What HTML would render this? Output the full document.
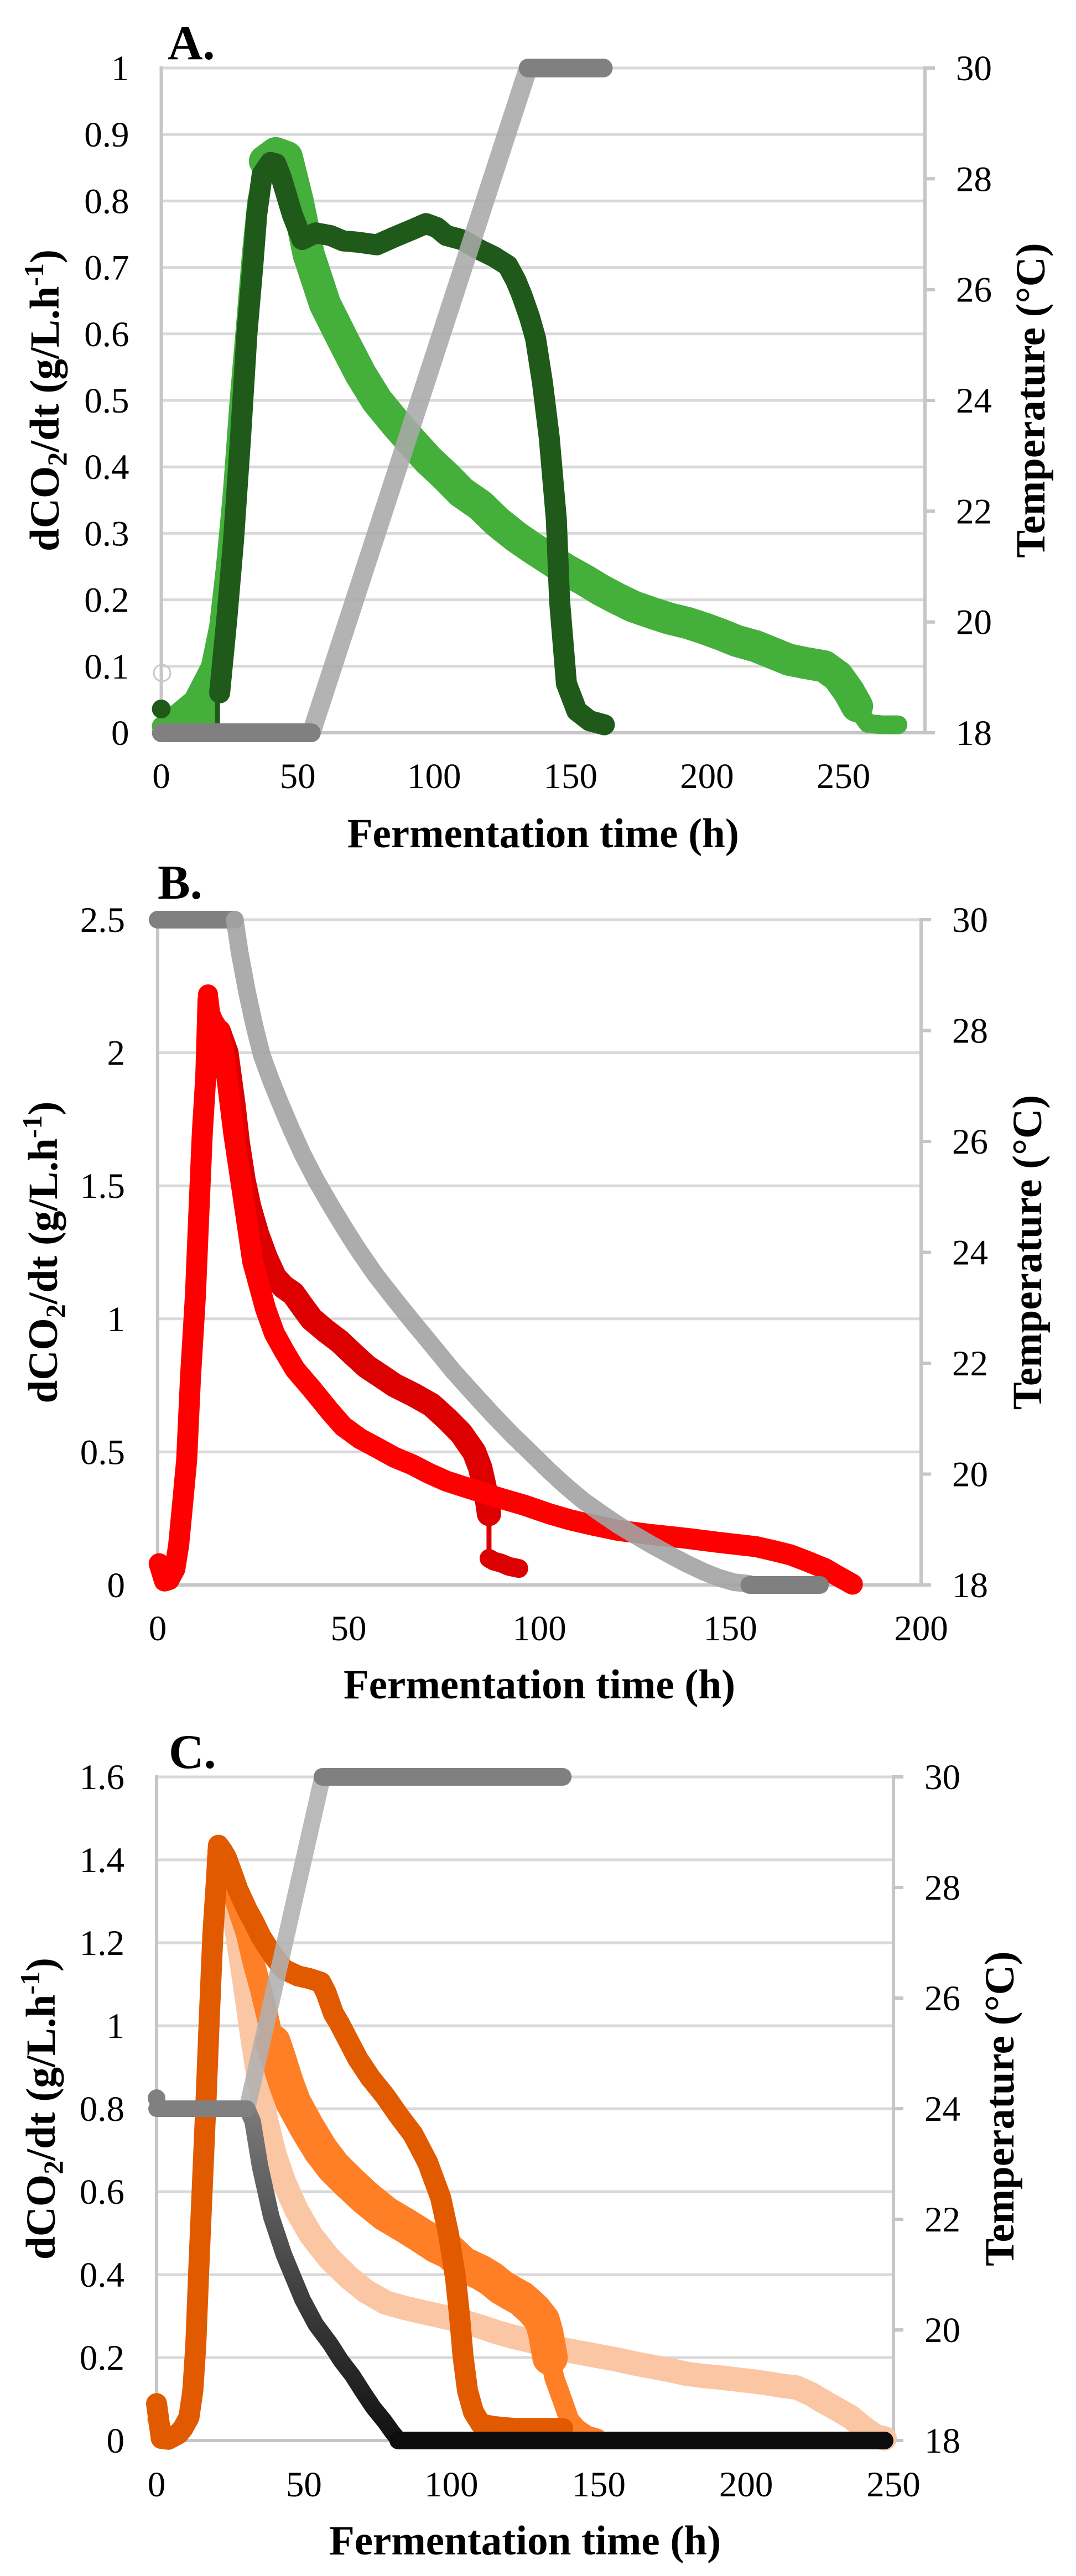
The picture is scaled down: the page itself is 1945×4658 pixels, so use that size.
<!DOCTYPE html>
<html><head><meta charset="utf-8">
<style>
html,body{margin:0;padding:0;background:#fff;}
svg{display:block;}
text{font-family:"Liberation Serif","Times New Roman",serif;fill:#000;}
.t{font-size:65px;font-family:"Liberation Serif","Times New Roman",serif;}
.ti{font-size:75px;font-weight:bold;font-family:"Liberation Serif","Times New Roman",serif;}
.pl{font-size:88px;font-weight:bold;font-family:"Liberation Serif","Times New Roman",serif;}
.g{stroke:#d9d9d9;stroke-width:5;}
.ax{stroke:#c6c6c6;stroke-width:6;}
.s{fill:none;stroke-linejoin:round;stroke-linecap:round;}
</style></head><body>
<svg width="1945" height="4658" viewBox="0 0 1945 4658" xmlns="http://www.w3.org/2000/svg" font-family="Liberation Serif, Times New Roman, serif">
<defs>
<linearGradient id="gC" gradientUnits="userSpaceOnUse" x1="0" y1="6" x2="0" y2="0">
<stop offset="0" stop-color="#7a7a7a"/><stop offset="1" stop-color="#111111"/>
</linearGradient>
</defs>
<rect width="1945" height="4658" fill="#fff"/>

<!-- ================= PANEL A ================= -->
<g>
<line class="g" x1="291.5" x2="1672" y1="1204.8" y2="1204.8"/>
<line class="g" x1="291.5" x2="1672" y1="1084.6" y2="1084.6"/>
<line class="g" x1="291.5" x2="1672" y1="964.4" y2="964.4"/>
<line class="g" x1="291.5" x2="1672" y1="844.2" y2="844.2"/>
<line class="g" x1="291.5" x2="1672" y1="724" y2="724"/>
<line class="g" x1="291.5" x2="1672" y1="603.8" y2="603.8"/>
<line class="g" x1="291.5" x2="1672" y1="483.6" y2="483.6"/>
<line class="g" x1="291.5" x2="1672" y1="363.4" y2="363.4"/>
<line class="g" x1="291.5" x2="1672" y1="243.2" y2="243.2"/>
<line class="g" x1="291.5" x2="1672" y1="123" y2="123"/>
<line class="ax" x1="291.5" x2="1672" y1="1325" y2="1325"/>
<line class="ax" x1="291.5" x2="291.5" y1="120" y2="1328"/>
<line class="ax" x1="1672" x2="1672" y1="120" y2="1328"/>
<line class="ax" x1="1672" x2="1690" y1="1325" y2="1325"/>
<line class="ax" x1="1672" x2="1690" y1="1124.7" y2="1124.7"/>
<line class="ax" x1="1672" x2="1690" y1="924.3" y2="924.3"/>
<line class="ax" x1="1672" x2="1690" y1="724" y2="724"/>
<line class="ax" x1="1672" x2="1690" y1="523.7" y2="523.7"/>
<line class="ax" x1="1672" x2="1690" y1="323.3" y2="323.3"/>
<line class="ax" x1="1672" x2="1690" y1="123" y2="123"/>
</g>
<g class="t" text-anchor="end" font-family="Liberation Serif, serif" font-size="65">
<text x="233.5" y="1347">0</text>
<text x="233.5" y="1226.8">0.1</text>
<text x="233.5" y="1106.6">0.2</text>
<text x="233.5" y="986.4">0.3</text>
<text x="233.5" y="866.2">0.4</text>
<text x="233.5" y="746">0.5</text>
<text x="233.5" y="625.8">0.6</text>
<text x="233.5" y="505.6">0.7</text>
<text x="233.5" y="385.4">0.8</text>
<text x="233.5" y="265.2">0.9</text>
<text x="233.5" y="145">1</text>
</g>
<g class="t" font-family="Liberation Serif, serif" font-size="65">
<text x="1728" y="1347">18</text>
<text x="1728" y="1146.7">20</text>
<text x="1728" y="946.3">22</text>
<text x="1728" y="746">24</text>
<text x="1728" y="545.7">26</text>
<text x="1728" y="345.3">28</text>
<text x="1728" y="145">30</text>
</g>
<g class="t" text-anchor="middle" font-family="Liberation Serif, serif" font-size="65">
<text x="291.5" y="1425">0</text>
<text x="538.1" y="1425">50</text>
<text x="784.7" y="1425">100</text>
<text x="1031.3" y="1425">150</text>
<text x="1277.9" y="1425">200</text>
<text x="1524.5" y="1425">250</text>
</g>
<text class="ti" font-family="Liberation Serif, serif" x="981.75" y="1532" text-anchor="middle">Fermentation time (h)</text>
<text class="ti" font-family="Liberation Serif, serif" text-anchor="middle" transform="translate(106 724) rotate(-90)">dCO<tspan font-size="50" dy="14">2</tspan><tspan dy="-14">/dt (g/L.h</tspan><tspan font-size="50" dy="-28">-1</tspan><tspan dy="28">)</tspan></text>
<text class="ti" font-family="Liberation Serif, serif" text-anchor="middle" transform="translate(1888 724) rotate(-90)">Temperature (°C)</text>
<text class="pl" font-family="Liberation Serif, serif" x="303" y="107">A.</text>

<!-- A series -->
<g transform="translate(291.5 1325) scale(4.932 -1202)">
<polygon points="0,0 5,0.027 11.7,0.05 18,0.1 21,0.16 21,0" fill="#44b03b"/>
<polyline class="s" vector-effect="non-scaling-stroke" stroke="#44b03b" stroke-width="34" points="0,0.01 5,0.027 11.7,0.05 18,0.1 21,0.16 23.5,0.25 26,0.36 28.5,0.5 31,0.62 33,0.72 35,0.8 38,0.86"/>
<polyline class="s" vector-effect="non-scaling-stroke" stroke="#44b03b" stroke-width="58" points="38,0.86 42,0.872 46,0.866 50,0.8 54,0.72 60,0.645 66.7,0.59 73,0.54 79,0.5 86,0.465 92,0.437 98,0.41 104.5,0.385 110,0.362 117,0.342 123,0.318 130,0.295 136,0.278 142,0.262 148,0.246 155,0.23 161,0.215 167,0.202 173,0.19 180,0.18 186,0.172 193,0.165 199,0.157 205,0.148 211,0.138 218,0.13 224,0.12 230,0.11 236,0.105 243,0.1 248,0.085 252,0.062 255,0.04"/>
<polyline class="s" vector-effect="non-scaling-stroke" stroke="#44b03b" stroke-width="34" points="255,0.04 257,0.025 259,0.014 264,0.012 270,0.012"/>
<line class="s" vector-effect="non-scaling-stroke" stroke="#1f5a1b" stroke-width="9" x1="20.6" y1="0" x2="20.6" y2="0.06"/>
<polyline class="s" vector-effect="non-scaling-stroke" stroke="#1f5a1b" stroke-width="38" points="21.4,0.06 24,0.17 26.5,0.29 29,0.44 31.4,0.6 33.5,0.7 35,0.78 37,0.84 40,0.858 42,0.856 44,0.835 48,0.78 51.6,0.742 56.6,0.752 62,0.748 66.6,0.74 72,0.738 79,0.734 85,0.745 92,0.757 97,0.766 101,0.76 104.5,0.748 110,0.742 117,0.726 122,0.716 127,0.703 130,0.68 132.2,0.658 135,0.625 137.2,0.593 139.7,0.527 142.2,0.444 144.8,0.321 146,0.198 148.5,0.074 152.3,0.033 157,0.018 162.4,0.012"/>
</g>
<circle cx="291.5" cy="1282" r="17" fill="#1f5a1b"/>
<g transform="translate(291.5 1325) scale(4.932 -100.17)">
<polyline class="s" vector-effect="non-scaling-stroke" stroke="#a8a8a8" stroke-opacity="0.88" stroke-width="34" points="55,0 134.5,12"/>
<polyline class="s" vector-effect="non-scaling-stroke" stroke="#808080" stroke-width="34" points="0,0 55,0"/>
<polyline class="s" vector-effect="non-scaling-stroke" stroke="#808080" stroke-width="34" points="134.5,12 162,12"/>
</g>
<circle cx="293" cy="1217" r="15" fill="none" stroke="#c8c8c8" stroke-width="3"/>

<!-- ================= PANEL B ================= -->
<g>
<line class="g" x1="285" x2="1665" y1="2625.4" y2="2625.4"/>
<line class="g" x1="285" x2="1665" y1="2384.8" y2="2384.8"/>
<line class="g" x1="285" x2="1665" y1="2144.2" y2="2144.2"/>
<line class="g" x1="285" x2="1665" y1="1903.6" y2="1903.6"/>
<line class="g" x1="285" x2="1665" y1="1663" y2="1663"/>
<line class="ax" x1="285" x2="1665" y1="2866" y2="2866"/>
<line class="ax" x1="285" x2="285" y1="1660" y2="2869"/>
<line class="ax" x1="1665" x2="1665" y1="1660" y2="2869"/>
<line class="ax" x1="1665" x2="1683" y1="2866" y2="2866"/>
<line class="ax" x1="1665" x2="1683" y1="2665.5" y2="2665.5"/>
<line class="ax" x1="1665" x2="1683" y1="2465" y2="2465"/>
<line class="ax" x1="1665" x2="1683" y1="2264.5" y2="2264.5"/>
<line class="ax" x1="1665" x2="1683" y1="2064" y2="2064"/>
<line class="ax" x1="1665" x2="1683" y1="1863.5" y2="1863.5"/>
<line class="ax" x1="1665" x2="1683" y1="1663" y2="1663"/>
</g>
<g class="t" text-anchor="end" font-family="Liberation Serif, serif" font-size="65">
<text x="226" y="2888">0</text>
<text x="226" y="2647.4">0.5</text>
<text x="226" y="2406.8">1</text>
<text x="226" y="2166.2">1.5</text>
<text x="226" y="1925.6">2</text>
<text x="226" y="1685">2.5</text>
</g>
<g class="t" font-family="Liberation Serif, serif" font-size="65">
<text x="1721" y="2888">18</text>
<text x="1721" y="2687.5">20</text>
<text x="1721" y="2487">22</text>
<text x="1721" y="2286.5">24</text>
<text x="1721" y="2086">26</text>
<text x="1721" y="1885.5">28</text>
<text x="1721" y="1685">30</text>
</g>
<g class="t" text-anchor="middle" font-family="Liberation Serif, serif" font-size="65">
<text x="285" y="2966">0</text>
<text x="630" y="2966">50</text>
<text x="975" y="2966">100</text>
<text x="1320" y="2966">150</text>
<text x="1665" y="2966">200</text>
</g>
<text class="ti" font-family="Liberation Serif, serif" x="975" y="3071" text-anchor="middle">Fermentation time (h)</text>
<text class="ti" font-family="Liberation Serif, serif" text-anchor="middle" transform="translate(103 2264.5) rotate(-90)">dCO<tspan font-size="50" dy="14">2</tspan><tspan dy="-14">/dt (g/L.h</tspan><tspan font-size="50" dy="-28">-1</tspan><tspan dy="28">)</tspan></text>
<text class="ti" font-family="Liberation Serif, serif" text-anchor="middle" transform="translate(1882 2264.5) rotate(-90)">Temperature (°C)</text>
<text class="pl" font-family="Liberation Serif, serif" x="285" y="1625">B.</text>

<g transform="translate(285 2866) scale(6.9 -481.2)">
<polyline class="s" vector-effect="non-scaling-stroke" stroke="#dc0000" stroke-width="44" points="16,2.08 18,2.0 19.8,1.81 21,1.66 22.5,1.52 24,1.42 26,1.32 28.3,1.23 30.7,1.155 33,1.12 35.5,1.095 38,1.045 40.3,1.0 44,0.955 47.6,0.916 51,0.87 54.8,0.82 58.5,0.785 62.1,0.75 67,0.715 71.7,0.677 75.7,0.625 79.5,0.57 82.9,0.5 84.5,0.44 85.6,0.37 86.5,0.3 86.8,0.267"/>
<line class="s" vector-effect="non-scaling-stroke" stroke="#dc0000" stroke-width="9" x1="86.8" y1="0.267" x2="86.8" y2="0.1"/>
<polyline class="s" vector-effect="non-scaling-stroke" stroke="#dc0000" stroke-width="34" points="86.8,0.1 88,0.09 90,0.082 92,0.07 94.6,0.062"/>
<polyline class="s" vector-effect="non-scaling-stroke" stroke="#ff0000" stroke-width="38" points="0.4,0.08 1.8,0.015 3,0.02 4.5,0.06 5.5,0.15 6.3,0.27 7.6,0.47 8.6,0.78 9.9,1.09 10.8,1.4 11.7,1.7 12.6,1.91 13,2.1 13.2,2.2 13.6,2.15 14.4,2.12 16.2,2.08 17.5,1.98 20,1.69 22.5,1.45 24.9,1.215 28.3,1.036 30.6,0.945 33.1,0.88 36,0.81 40.3,0.738 45,0.655 48.6,0.596 53,0.55 57.7,0.514 62,0.48 66.7,0.452 71,0.42 75.7,0.39 80,0.37 84.7,0.349 90,0.325 96,0.3 102.7,0.267 108,0.245 114,0.225 120.7,0.205 129,0.19 138.7,0.175 147,0.16 156.8,0.144 161,0.13 165.8,0.113 170,0.09 174.8,0.062 178,0.035 182,0.003"/>
</g>
<circle cx="376" cy="1798" r="18" fill="#ff0000"/>
<g transform="translate(285 2866) scale(6.9 -100.25)">
<polyline class="s" vector-effect="non-scaling-stroke" stroke="#808080" stroke-width="32" points="0,12 20.2,12"/>
<polyline class="s" vector-effect="non-scaling-stroke" stroke="#a3a3a3" stroke-opacity="0.9" stroke-width="32" points="20.2,12 21.5,11.4 23.4,10.7 25.3,10.1 27.3,9.55 29.7,9.1 32.1,8.69 35,8.22 37.9,7.78 41.5,7.3 45.2,6.86 48.8,6.45 52.4,6.06 57,5.6 62.1,5.15 67,4.73 71.7,4.34 77.5,3.85 83.8,3.37 88.5,3.02 93,2.7 97.8,2.38 102.7,2.05 107,1.78 111.5,1.52 116,1.3 120.7,1.08 125,0.9 129.5,0.72 134,0.55 138.7,0.38 143,0.24 147,0.13 151,0.05 155,0.02"/>
<polyline class="s" vector-effect="non-scaling-stroke" stroke="#808080" stroke-width="32" points="155,0 173.5,0"/>
</g>
<circle cx="1540" cy="2866" r="17" fill="#ff0000" fill-opacity="0.7"/>

<!-- ================= PANEL C ================= -->
<g>
<line class="g" x1="283" x2="1615" y1="4263" y2="4263"/>
<line class="g" x1="283" x2="1615" y1="4113" y2="4113"/>
<line class="g" x1="283" x2="1615" y1="3963" y2="3963"/>
<line class="g" x1="283" x2="1615" y1="3813" y2="3813"/>
<line class="g" x1="283" x2="1615" y1="3663" y2="3663"/>
<line class="g" x1="283" x2="1615" y1="3513" y2="3513"/>
<line class="g" x1="283" x2="1615" y1="3363" y2="3363"/>
<line class="g" x1="283" x2="1615" y1="3213" y2="3213"/>
<line class="ax" x1="283" x2="1615" y1="4413" y2="4413"/>
<line class="ax" x1="283" x2="283" y1="3210" y2="4416"/>
<line class="ax" x1="1615" x2="1615" y1="3210" y2="4416"/>
<line class="ax" x1="1615" x2="1633" y1="4413" y2="4413"/>
<line class="ax" x1="1615" x2="1633" y1="4213" y2="4213"/>
<line class="ax" x1="1615" x2="1633" y1="4013" y2="4013"/>
<line class="ax" x1="1615" x2="1633" y1="3813" y2="3813"/>
<line class="ax" x1="1615" x2="1633" y1="3613" y2="3613"/>
<line class="ax" x1="1615" x2="1633" y1="3413" y2="3413"/>
<line class="ax" x1="1615" x2="1633" y1="3213" y2="3213"/>
</g>
<g class="t" text-anchor="end" font-family="Liberation Serif, serif" font-size="65">
<text x="225" y="4435">0</text>
<text x="225" y="4285">0.2</text>
<text x="225" y="4135">0.4</text>
<text x="225" y="3985">0.6</text>
<text x="225" y="3835">0.8</text>
<text x="225" y="3685">1</text>
<text x="225" y="3535">1.2</text>
<text x="225" y="3385">1.4</text>
<text x="225" y="3235">1.6</text>
</g>
<g class="t" font-family="Liberation Serif, serif" font-size="65">
<text x="1671" y="4435">18</text>
<text x="1671" y="4235">20</text>
<text x="1671" y="4035">22</text>
<text x="1671" y="3835">24</text>
<text x="1671" y="3635">26</text>
<text x="1671" y="3435">28</text>
<text x="1671" y="3235">30</text>
</g>
<g class="t" text-anchor="middle" font-family="Liberation Serif, serif" font-size="65">
<text x="283" y="4514">0</text>
<text x="549.4" y="4514">50</text>
<text x="815.8" y="4514">100</text>
<text x="1082.2" y="4514">150</text>
<text x="1348.6" y="4514">200</text>
<text x="1615" y="4514">250</text>
</g>
<text class="ti" font-family="Liberation Serif, serif" x="949" y="4619" text-anchor="middle">Fermentation time (h)</text>
<text class="ti" font-family="Liberation Serif, serif" text-anchor="middle" transform="translate(99 3813) rotate(-90)">dCO<tspan font-size="50" dy="14">2</tspan><tspan dy="-14">/dt (g/L.h</tspan><tspan font-size="50" dy="-28">-1</tspan><tspan dy="28">)</tspan></text>
<text class="ti" font-family="Liberation Serif, serif" text-anchor="middle" transform="translate(1832 3813) rotate(-90)">Temperature (°C)</text>
<text class="pl" font-family="Liberation Serif, serif" x="305" y="3197">C.</text>

<g transform="translate(283 4413) scale(5.328 -750)">
<polyline class="s" vector-effect="non-scaling-stroke" stroke="#fbc6a4" stroke-width="34" points="0,0.05 3,0.01 8,0.02 11,0.06 13,0.2 14.5,0.42 16,0.65 17.5,0.9 19,1.15 20.5,1.35 21,1.4"/>
<polyline class="s" vector-effect="non-scaling-stroke" stroke="#fbc6a4" stroke-width="44" points="21,1.4 24,1.32 27,1.24 30,1.1 32.6,0.968 35,0.86 37,0.777 40,0.69 43.2,0.624 47.5,0.555 52.6,0.493 58.5,0.44 65.1,0.394 71,0.36 77.6,0.333 84,0.32 90.1,0.31 99.5,0.295 104,0.287 110,0.274 116,0.26 121,0.25 127,0.24 133,0.228 139,0.218 145,0.21 151,0.202 156.4,0.195 162,0.186 168,0.178 174,0.17 179.7,0.161 185,0.156 191,0.152 197,0.147 203,0.142 208,0.137 212,0.132 217,0.128 222,0.112 226,0.095 231,0.075 235.6,0.056 240,0.03 244,0.01 247,0.005"/>
<polyline class="s" vector-effect="non-scaling-stroke" stroke="#ff7f27" stroke-width="40" points="21,1.42 24,1.36 27,1.3 30.7,1.22 33,1.15 35.4,1.088 37.7,1.02 39.5,0.96"/>
<polyline class="s" vector-effect="non-scaling-stroke" stroke="#ff7f27" stroke-width="64" points="39.5,0.96 41.3,0.922 43.8,0.865 46.4,0.815 51,0.755 55.7,0.70 60,0.66 65.1,0.624 71,0.585 77.6,0.547 84,0.52 90.1,0.493 95,0.47 99.5,0.455 104,0.425 110,0.405 113.5,0.39 116.9,0.37 120.5,0.355 123.8,0.342 128,0.315 130.8,0.29 132,0.26 133.5,0.2"/>
<polyline class="s" vector-effect="non-scaling-stroke" stroke="#ff7f27" stroke-width="36" points="133.5,0.2 135,0.15 137.8,0.095 140,0.05 142.5,0.029 146,0.012 149.4,0.005"/>
<polyline class="s" vector-effect="non-scaling-stroke" stroke="#e25a00" stroke-width="38" points="0,0.089 1.6,0.005 4,0.003 7.4,0.016 9,0.03 11,0.056 12.3,0.12 13.3,0.228 14.4,0.426 15.6,0.625 16.8,0.823 17.9,1.02 19.1,1.22 20.3,1.35 21,1.435 22.5,1.42 23.7,1.405 26,1.36 27.6,1.328 30.7,1.28 33,1.25 35.4,1.215 37,1.197 40,1.165 43.2,1.136 48,1.12 51.7,1.114 55.7,1.105 57.5,1.08 60,1.03 62,1.006 65,0.965 68.3,0.92 72.5,0.875 77.6,0.83 82,0.785 87,0.738 92,0.67 96.4,0.585 99,0.5 101.4,0.394 102.8,0.3 104,0.202 105.5,0.12 107.5,0.069 110,0.04 114,0.034 121.5,0.029 130,0.029 137.8,0.029"/>
</g>
<g transform="translate(283 4413) scale(5.328 -100)">
<polyline class="s" vector-effect="non-scaling-stroke" stroke="#b0b0b0" stroke-opacity="0.88" stroke-width="30" points="30.7,6 56.3,12"/>
<polyline class="s" vector-effect="non-scaling-stroke" stroke="url(#gC)" stroke-width="30" points="30.7,6 32.6,5.77 35.1,4.96 38.9,4.05 43.2,3.36 49.5,2.55 54,2.1 58.9,1.75 62.5,1.45 66.4,1.18 70,0.88 73.5,0.6 77.3,0.35 80,0.15 82,0.02"/>
<polyline class="s" vector-effect="non-scaling-stroke" stroke="#0d0d0d" stroke-width="32" points="82,0 247,0"/>
<polyline class="s" vector-effect="non-scaling-stroke" stroke="#808080" stroke-width="30" points="0,6 30.7,6"/>
<polyline class="s" vector-effect="non-scaling-stroke" stroke="#808080" stroke-width="32" points="56.3,12 137.8,12"/>
</g>
<circle cx="283" cy="3794" r="16" fill="#808080"/>
</svg>
</body></html>
